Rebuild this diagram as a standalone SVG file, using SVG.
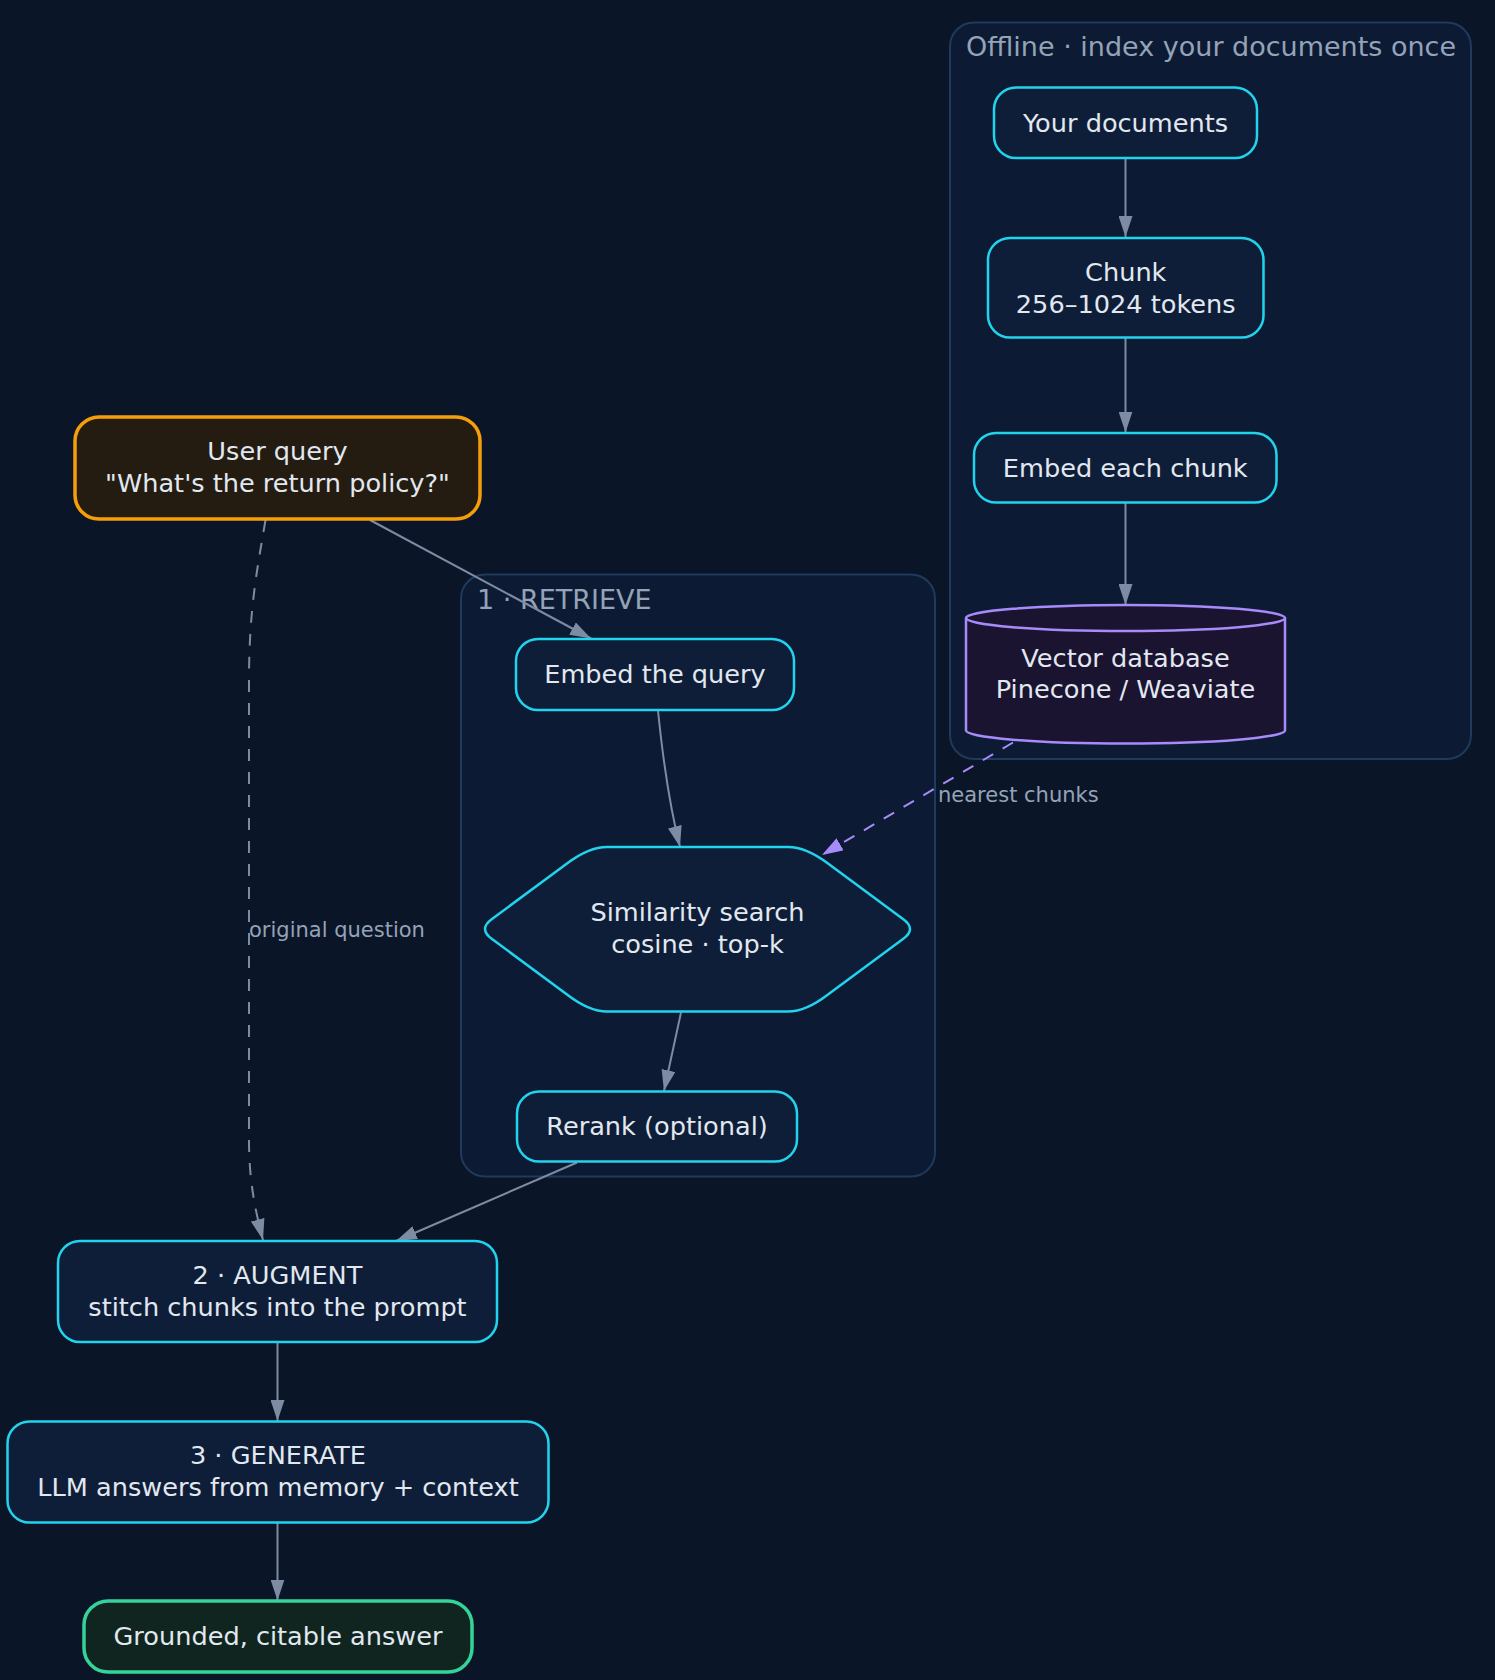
<svg xmlns="http://www.w3.org/2000/svg" width="1495" height="1680" viewBox="0 0 1495 1680">
<style>
  .cluster { fill: #0c1b33; stroke: #1f3a5c; stroke-width: 2; }
  .ctitle { font-family: "DejaVu Sans", sans-serif; font-size: 27px; fill: #94a3b8; }
  .node { fill: #0f1e38; stroke: #22d3ee; stroke-width: 2.5; }
  .t { font-family: "DejaVu Sans", sans-serif; font-size: 25.6px; fill: #e2e8f0; text-anchor: middle; }
  .lbl { font-family: "DejaVu Sans", sans-serif; font-size: 21px; fill: #94a3b8; }
  .edge { fill: none; stroke: #7d8ba3; stroke-width: 2; }
  .dash { stroke-dasharray: 12 11; }
  .pedge { fill: none; stroke: #a78bfa; stroke-width: 2; stroke-dasharray: 12 11; }
</style>
<defs>
  <marker id="arr" markerUnits="userSpaceOnUse" markerWidth="22" markerHeight="14" refX="21" refY="7" orient="auto">
    <path d="M0,0 L21,7 L0,14 Z" fill="#7d8ba3"/>
  </marker>
  <marker id="parr" markerUnits="userSpaceOnUse" markerWidth="22" markerHeight="14" refX="21" refY="7" orient="auto">
    <path d="M0,0 L21,7 L0,14 Z" fill="#a78bfa"/>
  </marker>
</defs>
<rect x="0" y="0" width="1495" height="1680" fill="#0b1528"/>

<g id="cluster-offline">
  <rect class="cluster" x="950" y="22.5" width="521" height="736.5" rx="24"/>
  <text class="ctitle" x="966" y="56">Offline · index your documents once</text>
</g>
<g id="cluster-retrieve">
  <rect class="cluster" x="461" y="574.5" width="474" height="602" rx="24"/>
  <text class="ctitle" x="477" y="609">1 · RETRIEVE</text>
</g>

<g id="connectors">
  <path class="edge" d="M1125.5 158.5 L1125.5 237" marker-end="url(#arr)"/>
  <path class="edge" d="M1125.5 338 L1125.5 432.5" marker-end="url(#arr)"/>
  <path class="edge" d="M1125.5 503 L1125.5 605" marker-end="url(#arr)"/>
  <path class="edge" d="M370 520 L591 638.5" marker-end="url(#arr)"/>
  <path class="edge" d="M658 710.5 C662 750 668 800 680 847" marker-end="url(#arr)"/>
  <path class="edge" d="M681 1012.5 L664 1091" marker-end="url(#arr)"/>
  <path class="edge" d="M577 1162.5 L396 1241" marker-end="url(#arr)"/>
  <path class="edge" d="M277.5 1342.5 L277.5 1421" marker-end="url(#arr)"/>
  <path class="edge" d="M277.5 1523 L277.5 1600.5" marker-end="url(#arr)"/>
  <path class="edge dash" d="M265.5 520 C257 570 249 610 249 680 L249 1140 C249 1180 255 1210 263 1240" marker-end="url(#arr)"/>
  <path class="pedge" d="M1013 742.5 L822 855" marker-end="url(#parr)"/>
  <text class="lbl" x="249" y="937">original question</text>
  <text class="lbl" x="938" y="802">nearest chunks</text>
</g>

<g id="node-docs">
  <rect class="node" x="994" y="87.5" width="263" height="70.5" rx="22"/>
  <text class="t" x="1125.5" y="131.5">Your documents</text>
</g>
<g id="node-chunk">
  <rect class="node" x="988" y="238" width="275.5" height="99.5" rx="22"/>
  <text class="t" x="1125.75" y="280.5">Chunk</text>
  <text class="t" x="1125.75" y="312.5">256–1024 tokens</text>
</g>
<g id="node-embed-chunk">
  <rect class="node" x="974" y="433" width="302.5" height="69.5" rx="22"/>
  <text class="t" x="1125.25" y="476.5">Embed each chunk</text>
</g>
<g id="node-vectordb">
  <path d="M966 618 A159.5 13 0 0 1 1285 618 L1285 730.5 A159.5 13 0 0 1 966 730.5 Z" fill="#1a1430" stroke="#a78bfa" stroke-width="2.5"/>
  <path d="M966 618 A159.5 13 0 0 0 1285 618" fill="none" stroke="#a78bfa" stroke-width="2.5"/>
  <text class="t" x="1125.5" y="666.5">Vector database</text>
  <text class="t" x="1125.5" y="698">Pinecone / Weaviate</text>
</g>
<g id="node-query">
  <rect x="75" y="417" width="405" height="102" rx="24" fill="#241c10" stroke="#f59e0b" stroke-width="3.5"/>
  <text class="t" x="277.5" y="460">User query</text>
  <text class="t" x="277.5" y="491.5">"What's the return policy?"</text>
</g>
<g id="node-embed-query">
  <rect class="node" x="516" y="639" width="278" height="71" rx="22"/>
  <text class="t" x="655" y="683">Embed the query</text>
</g>
<g id="node-similarity">
  <path class="node" d="M607 847 L788 847 Q806 847 828 863.5 L903 919 Q917 929 903 939 L828 994.5 Q806 1011.5 788 1011.5 L607 1011.5 Q589 1011.5 567 994.5 L492 939 Q478 929 492 919 L567 863.5 Q589 847 607 847 Z"/>
  <text class="t" x="697.5" y="920.5">Similarity search</text>
  <text class="t" x="697.5" y="953">cosine · top-k</text>
</g>
<g id="node-rerank">
  <rect class="node" x="517" y="1091.5" width="280" height="70" rx="22"/>
  <text class="t" x="657" y="1135">Rerank (optional)</text>
</g>
<g id="node-augment">
  <rect class="node" x="58" y="1241" width="439" height="101" rx="22"/>
  <text class="t" x="277.5" y="1284">2 · AUGMENT</text>
  <text class="t" x="277.5" y="1316">stitch chunks into the prompt</text>
</g>
<g id="node-generate">
  <rect class="node" x="7.5" y="1421.5" width="541" height="101" rx="22"/>
  <text class="t" x="278" y="1464">3 · GENERATE</text>
  <text class="t" x="278" y="1496">LLM answers from memory + context</text>
</g>
<g id="node-answer">
  <rect x="84" y="1601" width="388" height="71" rx="24" fill="#10251f" stroke="#34d399" stroke-width="3.5"/>
  <text class="t" x="278" y="1645">Grounded, citable answer</text>
</g>
</svg>
